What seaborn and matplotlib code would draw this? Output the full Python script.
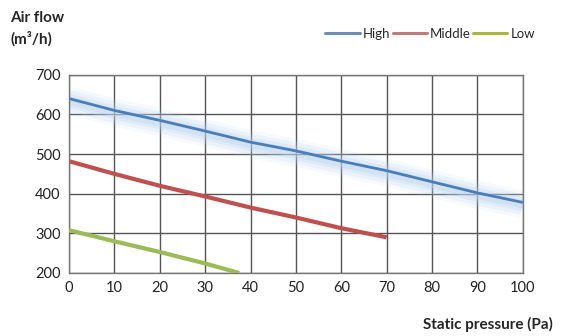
import numpy as np
import matplotlib
matplotlib.use("Agg")
import matplotlib.pyplot as plt
import seaborn as sns
import pandas as pd

# values
high_x = [0, 10, 20, 30, 40, 50, 60, 70, 80, 90, 100]
high_y = [640, 610, 585, 558, 530, 508, 482, 458, 430, 402, 378]
mid_x = [0, 10, 20, 30, 40, 50, 60, 70]
mid_y = [482, 450, 420, 393, 365, 340, 313, 290]
low_x = [0, 10, 20, 30, 37.5]
low_y = [308, 280, 253, 224, 200]
series = ["High", "Middle", "Low"]
colors = ["#4a7ebb", "#c0504d", "#9bbb59"]
x_ticks = list(range(0, 101, 10))
y_ticks = list(range(200, 701, 100))

df = pd.concat([
    pd.DataFrame({"pressure": high_x, "flow": high_y, "speed": "High"}),
    pd.DataFrame({"pressure": mid_x, "flow": mid_y, "speed": "Middle"}),
    pd.DataFrame({"pressure": low_x, "flow": low_y, "speed": "Low"}),
])

sns.set_style("white")
plt.rcParams["font.family"] = ["Lato", "DejaVu Sans"]

fig = plt.figure(figsize=(5.61, 3.36), dpi=100)
ax = fig.add_axes([0.123, 0.1875, 0.809, 0.59])

# soft glow under the High curve
for lw, a in [(20, 0.12), (15, 0.18), (10, 0.25), (6, 0.35)]:
    ax.plot(high_x, np.array(high_y) - 5, color="#bcd3ef", lw=lw, alpha=a,
            solid_capstyle="butt", zorder=1)

sns.lineplot(data=df, x="pressure", y="flow", hue="speed", hue_order=series,
             palette=colors, ax=ax, legend=False, zorder=3)
lines = ax.get_lines()[-3:]
widths = [2.0, 3.0, 3.0]
for ln, w in zip(lines, widths):
    ln.set_linewidth(w)
    ln.set_solid_capstyle("butt")

ax.set_xlim(0, 100)
ax.set_ylim(200, 700)
ax.set_xticks(x_ticks)
ax.set_yticks(y_ticks)
ax.grid(True, color="#555555", lw=1.0)
ax.set_axisbelow(True)
for s in ax.spines.values():
    s.set_color("#777777")
    s.set_linewidth(1.0)
ax.tick_params(length=0, labelsize=10.5, colors="#222222", pad=6)
ax.set_xlabel("")
ax.set_ylabel("")

fig.text(0.018, 0.945, "Air flow", fontsize=11, fontweight="bold", va="center")
fig.text(0.018, 0.885, "(m³/h)", fontsize=11, fontweight="bold", va="center")
fig.text(0.985, 0.035, "Static pressure (Pa)", fontsize=11, fontweight="bold",
         ha="right", va="center")

handles = [plt.Line2D([], [], color=c, lw=2.2) for c in ["#6e8db5", "#c07a78", "#a9b83c"]]
fig.legend(handles, series, loc="center right", bbox_to_anchor=(0.975, 0.9),
           ncol=3, frameon=False, fontsize=9.5, handlelength=2.6,
           handletextpad=0.25, columnspacing=0.15)

fig.savefig("out.png", dpi=100)
